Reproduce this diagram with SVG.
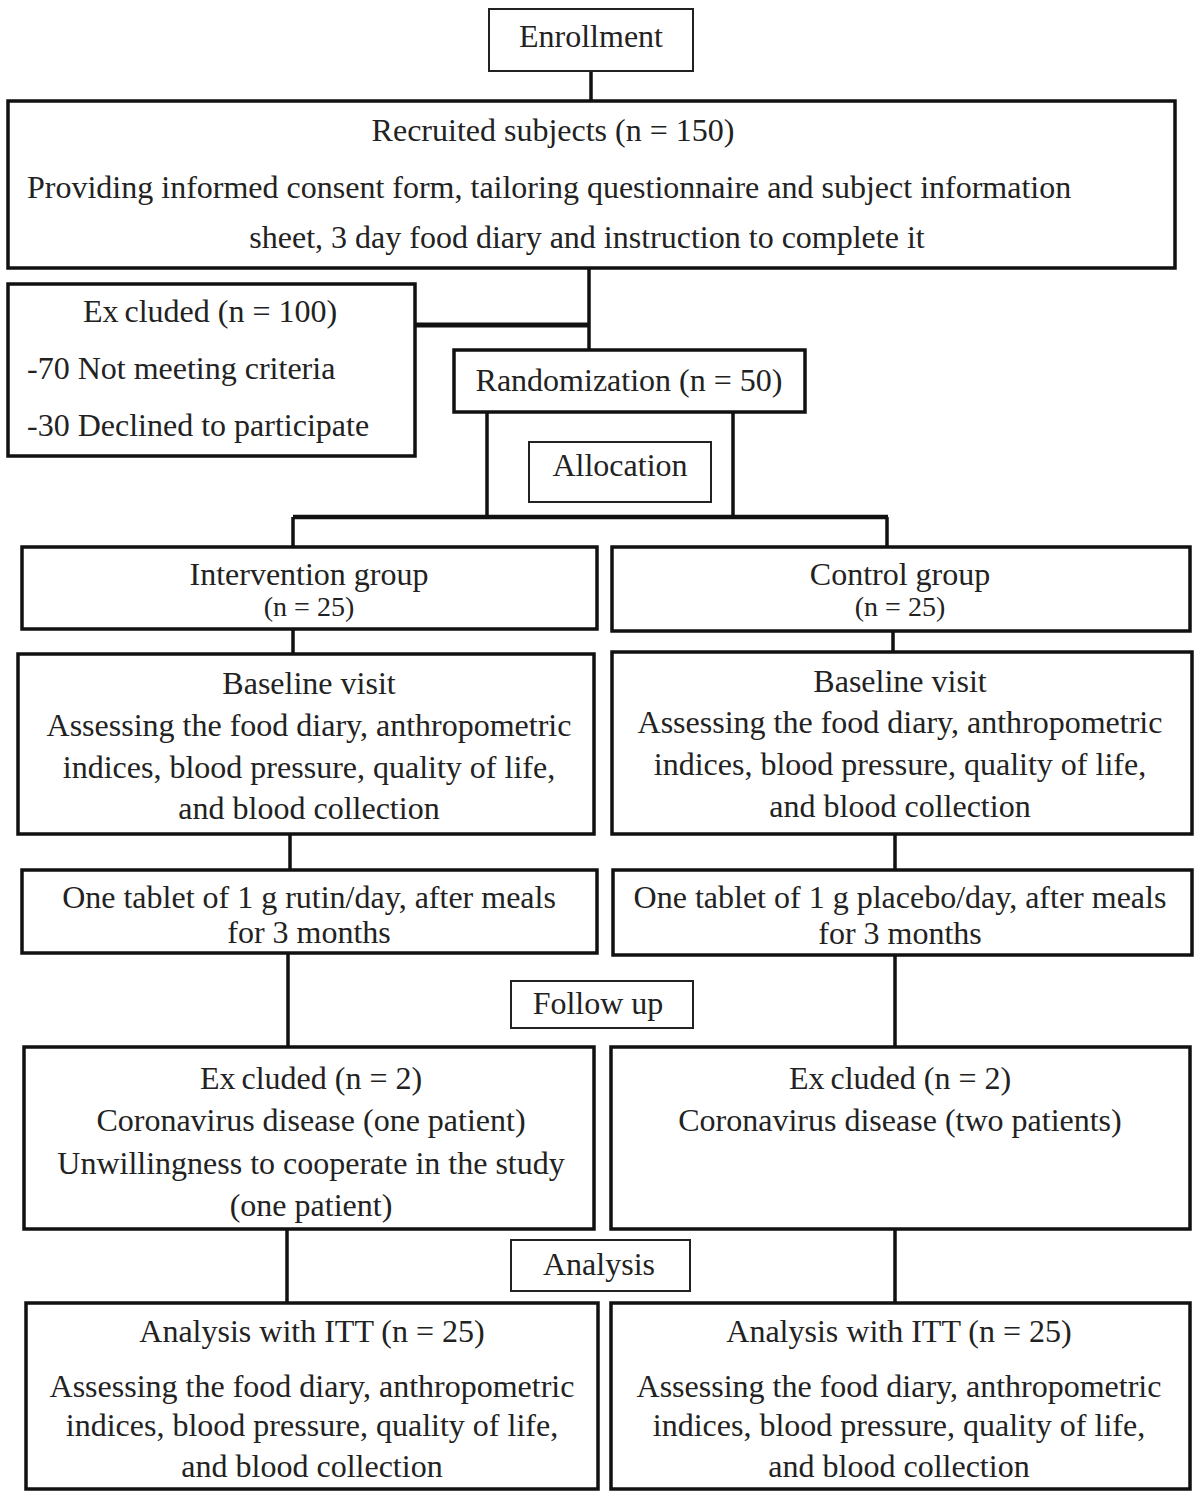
<svg xmlns="http://www.w3.org/2000/svg" width="1200" height="1497" viewBox="0 0 1200 1497">
<style>
text{font-family:"Liberation Serif","Times New Roman",serif;font-size:32px;fill:#222}
.c{text-anchor:middle}
.s{font-size:28px}
.box{fill:#fff;stroke:#111;stroke-width:3.5}
.lb{fill:#fff;stroke:#222;stroke-width:2}
.ln{fill:none;stroke:#111;stroke-width:3.5}
</style>
<rect width="1200" height="1497" fill="#fff"/>
<g id="connectors">
<path class="ln" d="M591 71V101"/>
<path class="ln" d="M589 268V350"/>
<path class="ln" d="M415 325H589" style="stroke-width:5"/>
<path class="ln" d="M487 412V517M733 412V517"/>
<path class="ln" d="M293 517H888" style="stroke-width:4.5"/>
<path class="ln" d="M293 517V547M887 517V547"/>
<path class="ln" d="M293 629V654M893 631V652"/>
<path class="ln" d="M290 834V870M895 834V870"/>
<path class="ln" d="M288 953V1047M895 955V1047"/>
<path class="ln" d="M287 1229V1303M895 1229V1303"/>
</g>
<g id="enrollment"><rect class="lb" x="489" y="9" width="204" height="62"/><text class="c" x="591" y="47">Enrollment</text></g>
<g id="recruited"><rect class="box" x="8" y="101" width="1167" height="167"/>
<text class="c" x="553" y="141">Recruited subjects (n = 150)</text>
<text x="27" y="198">Providing informed consent form, tailoring questionnaire and subject information</text>
<text class="c" x="587" y="248">sheet, 3 day food diary and instruction to complete it</text></g>
<g id="excluded-100"><rect class="box" x="8" y="284" width="407" height="172"/>
<text class="c" x="210" y="322">Ex<tspan dx="6">cluded (n = 100)</tspan></text>
<text x="27" y="379">-70 Not meeting criteria</text>
<text x="27" y="436">-30 Declined to participate</text></g>
<g id="randomization"><rect class="box" x="454" y="350" width="351" height="62"/><text class="c" x="629" y="391">Randomization (n = 50)</text></g>
<g id="allocation"><rect class="lb" x="529" y="442" width="182" height="60"/><text class="c" x="620" y="476">Allocation</text></g>
<g id="intervention"><rect class="box" x="22" y="547" width="575" height="82"/>
<text class="c" x="309" y="585">Intervention group</text><text class="c s" x="309" y="616">(n = 25)</text></g>
<g id="control"><rect class="box" x="612" y="547" width="578" height="84"/>
<text class="c" x="900" y="585">Control group</text><text class="c s" x="900" y="616">(n = 25)</text></g>
<g id="baseline-left"><rect class="box" x="18" y="654" width="576" height="180"/>
<text class="c" x="309" y="694">Baseline visit</text>
<text class="c" x="309" y="736">Assessing the food diary, anthropometric</text>
<text class="c" x="309" y="778">indices, blood pressure, quality of life,</text>
<text class="c" x="309" y="819">and blood collection</text></g>
<g id="baseline-right"><rect class="box" x="612" y="652" width="580" height="182"/>
<text class="c" x="900" y="692">Baseline visit</text>
<text class="c" x="900" y="733">Assessing the food diary, anthropometric</text>
<text class="c" x="900" y="775">indices, blood pressure, quality of life,</text>
<text class="c" x="900" y="817">and blood collection</text></g>
<g id="tablet-left"><rect class="box" x="22" y="870" width="575" height="83"/>
<text class="c" x="309" y="908">One tablet of 1 g rutin/day, after meals</text>
<text class="c" x="309" y="943">for 3 months</text></g>
<g id="tablet-right"><rect class="box" x="613" y="870" width="579" height="85"/>
<text class="c" x="900" y="908">One tablet of 1 g placebo/day, after meals</text>
<text class="c" x="900" y="944">for 3 months</text></g>
<g id="followup"><rect class="lb" x="511" y="981" width="182" height="47"/><text class="c" x="598" y="1014">Follow up</text></g>
<g id="excluded-left"><rect class="box" x="24" y="1047" width="570" height="182"/>
<text class="c" x="311" y="1089">Ex<tspan dx="6">cluded (n = 2)</tspan></text>
<text class="c" x="311" y="1131">Coronavirus disease (one patient)</text>
<text class="c" x="311" y="1174">Unwillingness to cooperate in the study</text>
<text class="c" x="311" y="1216">(one patient)</text></g>
<g id="excluded-right"><rect class="box" x="611" y="1047" width="579" height="182"/>
<text class="c" x="900" y="1089">Ex<tspan dx="6">cluded (n = 2)</tspan></text>
<text class="c" x="900" y="1131">Coronavirus disease (two patients)</text></g>
<g id="analysis"><rect class="lb" x="511" y="1240" width="179" height="51"/><text class="c" x="599" y="1275">Analysis</text></g>
<g id="analysis-left"><rect class="box" x="26" y="1303" width="572" height="186"/>
<text class="c" x="312" y="1342">Analysis with ITT (n = 25)</text>
<text class="c" x="312" y="1397">Assessing the food diary, anthropometric</text>
<text class="c" x="312" y="1436">indices, blood pressure, quality of life,</text>
<text class="c" x="312" y="1477">and blood collection</text></g>
<g id="analysis-right"><rect class="box" x="611" y="1303" width="579" height="186"/>
<text class="c" x="899" y="1342">Analysis with ITT (n = 25)</text>
<text class="c" x="899" y="1397">Assessing the food diary, anthropometric</text>
<text class="c" x="899" y="1436">indices, blood pressure, quality of life,</text>
<text class="c" x="899" y="1477">and blood collection</text></g>
</svg>
